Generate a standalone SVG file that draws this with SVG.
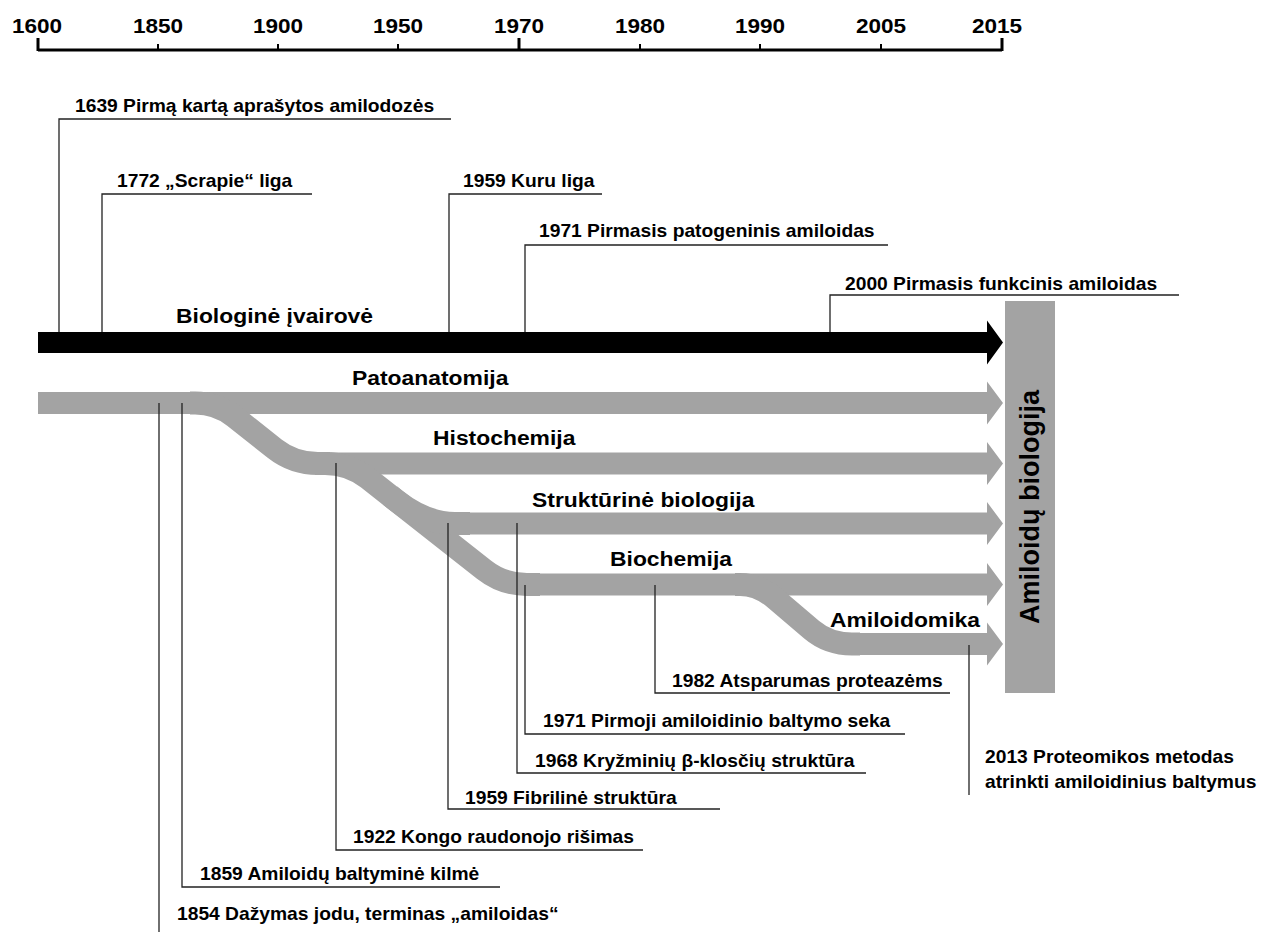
<svg xmlns="http://www.w3.org/2000/svg" width="1266" height="932" viewBox="0 0 1266 932">
<style>
text{font-family:"Liberation Sans",Arial,sans-serif;font-weight:bold;fill:#000}
.ax{font-size:20.5px;text-anchor:middle}
.tr{font-size:21px}
.ev{font-size:17.5px}
.lead{fill:none;stroke:#222;stroke-width:1.3}
.gray{fill:#a3a3a3}
.br{fill:none;stroke:#a3a3a3;stroke-width:23}
</style>
<rect width="1266" height="932" fill="#fff"/>
<g id="axis">
<path d="M38,50 H1002" stroke="#000" stroke-width="3" fill="none"/>
<path d="M38,38 V51 M519,38 V51 M1002,38 V51" stroke="#000" stroke-width="3" fill="none"/>
<path d="M158,44 V50 M278,44 V50 M398,44 V50 M640,44 V50 M760,44 V50 M881,44 V50" stroke="#000" stroke-width="2" fill="none"/>
<text class="ax" transform="translate(37,33) scale(1.1,1)">1600</text>
<text class="ax" transform="translate(158,33) scale(1.1,1)">1850</text>
<text class="ax" transform="translate(278,33) scale(1.1,1)">1900</text>
<text class="ax" transform="translate(398,33) scale(1.1,1)">1950</text>
<text class="ax" transform="translate(519,33) scale(1.1,1)">1970</text>
<text class="ax" transform="translate(640,33) scale(1.1,1)">1980</text>
<text class="ax" transform="translate(760,33) scale(1.1,1)">1990</text>
<text class="ax" transform="translate(881,33) scale(1.1,1)">2005</text>
<text class="ax" transform="translate(997,33) scale(1.1,1)">2015</text>
</g>
<g id="amiloidu-biologija">
<rect class="gray" x="1005" y="301" width="50" height="392"/>
<text transform="translate(1039,507) rotate(-90)" style="font-size:27px;text-anchor:middle">Amiloidų biologija</text>
</g>
<g id="biologine-ivairove">
<path d="M38,332 H987 V320.5 L1003,342.5 L987,364.5 V353 H38 Z" fill="#000"/>
<text class="tr" transform="translate(176,323) scale(1.09,1)">Biologinė įvairovė</text>
</g>
<g id="patoanatomija">
<path class="gray" d="M38,392 H987 V381.5 L1003,403 L987,424.5 V414 H38 Z"/>
<text class="tr" transform="translate(352,385) scale(1.09,1)">Patoanatomija</text>
</g>
<g id="histochemija">
<path class="br" d="M190,403 H195 Q217,403 234.3,416.6 L274.8,448.7 Q293.7,463.5 318,463.5 H330"/>
<path class="gray" d="M320,452.5 H987 V442 L1003,463.5 L987,485 V474.5 H320 Z"/>
<text class="tr" transform="translate(433,445) scale(1.09,1)">Histochemija</text>
</g>
<g id="biochemija">
<path class="br" d="M315,463.5 H325 Q349,463.5 367.9,478.3 L484.1,569.7 Q503,584.5 527,584.5 H540"/>
<path class="gray" d="M530,573.5 H987 V563 L1003,584.5 L987,606 V595.5 H530 Z"/>
<text class="tr" transform="translate(610,566) scale(1.09,1)">Biochemija</text>
</g>
<g id="strukturine-biologija">
<path class="br" d="M390,495.5 L395.6,500 Q425.5,523.5 455,523.5 H470"/>
<path class="gray" d="M460,512.5 H987 V502 L1003,523.5 L987,545 V534.5 H460 Z"/>
<text class="tr" transform="translate(532,506.5) scale(1.09,1)">Struktūrinė biologija</text>
</g>
<g id="amiloidomika">
<path class="br" d="M735,584.5 H740 Q758.5,584.5 775.3,598.7 L811.7,629.8 Q828.5,644 852,644 H860"/>
<path class="gray" d="M850,633 H987 V622.5 L1003,644 L987,665.5 V655 H850 Z"/>
<text class="tr" transform="translate(830,626.5) scale(1.09,1)">Amiloidomika</text>
</g>
<g id="connectors">
<polyline class="lead" points="59,332 59,119 451,119"/>
<polyline class="lead" points="102,332 102,194 312,194"/>
<polyline class="lead" points="449,332 449,194 602,194"/>
<polyline class="lead" points="525,332 525,245 888,245"/>
<polyline class="lead" points="830,332 830,295 1179,295"/>
<polyline class="lead" points="655,585 655,693 950,693"/>
<polyline class="lead" points="525,585 525,734 905,734"/>
<polyline class="lead" points="517,523 517,773 866,773"/>
<polyline class="lead" points="448,523 448,809 720,809"/>
<polyline class="lead" points="336,463 336,850 643,850"/>
<polyline class="lead" points="182,403 182,887 500,887"/>
<polyline class="lead" points="159,403 159,932"/>
<polyline class="lead" points="969,645 969,795"/>
</g>
<g id="events">
<text class="ev" transform="translate(75,112) scale(1.1,1)">1639 Pirmą kartą aprašytos amilodozės</text>
<text class="ev" transform="translate(117,187) scale(1.1,1)">1772 „Scrapie“ liga</text>
<text class="ev" transform="translate(463,187) scale(1.1,1)">1959 Kuru liga</text>
<text class="ev" transform="translate(539,237) scale(1.1,1)">1971 Pirmasis patogeninis amiloidas</text>
<text class="ev" transform="translate(845,290) scale(1.1,1)">2000 Pirmasis funkcinis amiloidas</text>
<text class="ev" transform="translate(672,687) scale(1.1,1)">1982 Atsparumas proteazėms</text>
<text class="ev" transform="translate(543,727) scale(1.1,1)">1971 Pirmoji amiloidinio baltymo seka</text>
<text class="ev" transform="translate(535,767) scale(1.1,1)">1968 Kryžminių β-klosčių struktūra</text>
<text class="ev" transform="translate(465,804) scale(1.1,1)">1959 Fibrilinė struktūra</text>
<text class="ev" transform="translate(353,843) scale(1.1,1)">1922 Kongo raudonojo rišimas</text>
<text class="ev" transform="translate(200,880) scale(1.1,1)">1859 Amiloidų baltyminė kilmė</text>
<text class="ev" transform="translate(177,920) scale(1.1,1)">1854 Dažymas jodu, terminas „amiloidas“</text>
<text class="ev" transform="translate(985,763) scale(1.1,1)">2013 Proteomikos metodas</text>
<text class="ev" transform="translate(985,788) scale(1.1,1)">atrinkti amiloidinius baltymus</text>
</g>
</svg>
